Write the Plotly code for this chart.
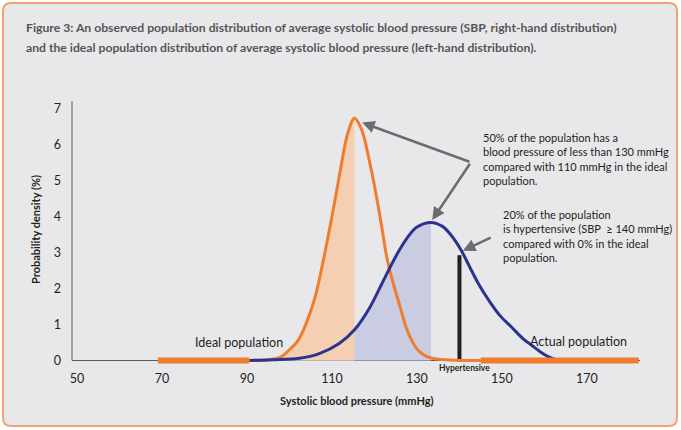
import plotly.graph_objects as go

# ---------------- data ----------------
ideal_x = [90.5, 95.0, 98.0, 100.0, 102.0, 104.0, 106.0, 108.0, 110.0, 112.0, 113.7, 115.3,
           117.0, 118.5, 120.0, 121.5, 123.0, 124.5, 126.0, 127.5, 129.0, 130.5, 132.5, 135.0,
           140.0, 145.0]
ideal_y = [0.0, 0.02, 0.10, 0.30, 0.55, 1.05, 1.75, 2.80, 4.00, 5.30, 6.30, 6.72,
           6.40, 5.70, 4.85, 3.85, 2.80, 2.10, 1.50, 0.90, 0.50, 0.25, 0.10, 0.03,
           0.0, 0.0]

actual_x = [90.6, 96.0, 102.3, 107.0, 111.7, 115.3, 118.8, 121.0, 123.3, 125.8, 128.0, 130.0,
            133.3, 136.0, 138.0, 140.4, 142.3, 144.5, 146.9, 149.5, 152.3, 155.0, 157.0,
            159.5, 161.7, 163.4]
actual_y = [0.0, 0.02, 0.06, 0.19, 0.47, 0.85, 1.45, 1.95, 2.50, 3.05, 3.45, 3.70,
            3.83, 3.72, 3.48, 3.06, 2.62, 2.12, 1.67, 1.25, 0.92, 0.60, 0.42,
            0.20, 0.06, 0.0]

ideal_median = 115.3      # end of orange shading
actual_median = 133.3     # end of blue shading
hypertension_sbp = 140.0
hypertension_density = 2.92

ideal_tails_x = [[69.0, 90.5], [145.0, 182.2]]
ideal_tails_y = [[0.0, 0.0], [0.0, 0.0]]

x_ticks = [50, 70, 90, 110, 130, 150, 170]
y_ticks = [0, 1, 2, 3, 4, 5, 6, 7]

title_lines = [
    "Figure 3: An observed population distribution of average systolic blood pressure (SBP, right-hand distribution)",
    "and the ideal population distribution of average systolic blood pressure (left-hand distribution).",
]
note_median = "50% of the population has a<br>blood pressure of less than 130 mmHg<br>compared with 110 mmHg in the ideal<br>population."
note_hyper = "20% of the population<br>is hypertensive (SBP  \u2265 140 mmHg)<br>compared with 0% in the ideal<br>population."

# ---------------- styles ----------------
ORANGE = "#ef7d2d"
NAVY = "#2b338e"
ORANGE_FILL = "#f4cfb2"
BLUE_FILL = "#cacce2"
GREY_ARROW = "#6b6c70"
TEXT = "#231f20"
BG = "#e8e8ea"
FONT = "Lato, Roboto, Liberation Sans, sans-serif"

W, H = 681, 430
L, R, T, B = 72, 41, 101, 66
PW, PH = W - L - R, H - T - B


def px_to_paper(px, py):
    return (px - L) / PW, (H - B - py) / PH


fig = go.Figure()

# shading (blue first, orange over it)
bx = [x for x in actual_x if x <= actual_median]
by = actual_y[:len(bx)]
fig.add_trace(go.Scatter(x=bx, y=by, mode="lines", line=dict(width=0, shape="spline", smoothing=1),
                         fill="tozeroy", fillcolor=BLUE_FILL, hoverinfo="skip", showlegend=False))
ox = [x for x in ideal_x if x <= ideal_median]
oy = ideal_y[:len(ox)]
fig.add_trace(go.Scatter(x=ox, y=oy, mode="lines", line=dict(width=0, shape="spline", smoothing=1),
                         fill="tozeroy", fillcolor=ORANGE_FILL, hoverinfo="skip", showlegend=False))

# hypertension threshold
fig.add_trace(go.Scatter(x=[hypertension_sbp, hypertension_sbp], y=[0, hypertension_density],
                         mode="lines", line=dict(color=TEXT, width=4), showlegend=False))

# curves
fig.add_trace(go.Scatter(x=ideal_x, y=ideal_y, mode="lines",
                         line=dict(color=ORANGE, width=3, shape="spline", smoothing=1),
                         showlegend=False))
fig.add_trace(go.Scatter(x=actual_x, y=actual_y, mode="lines",
                         line=dict(color=NAVY, width=3, shape="spline", smoothing=1),
                         showlegend=False))
for tx, ty in zip(ideal_tails_x, ideal_tails_y):
    fig.add_trace(go.Scatter(x=tx, y=ty, mode="lines",
                             line=dict(color=ORANGE, width=6), showlegend=False))

# background card
x0, y0 = px_to_paper(3, 426)
x1, y1 = px_to_paper(677, 3)
rx, ry = 8 / PW, 8 / PH
path = (f"M {x0+rx},{y0} L {x1-rx},{y0} Q {x1},{y0} {x1},{y0+ry} L {x1},{y1-ry} "
        f"Q {x1},{y1} {x1-rx},{y1} L {x0+rx},{y1} Q {x0},{y1} {x0},{y1-ry} "
        f"L {x0},{y0+ry} Q {x0},{y0} {x0+rx},{y0} Z")
shapes = [
    dict(type="path", path=path, xref="paper", yref="paper", fillcolor=BG,
         line=dict(color="#f2a470", width=2), layer="below"),
    dict(type="line", xref="paper", yref="y", x0=0, x1=0, y0=0, y1=7.2,
         line=dict(color="#5a5a5c", width=1)),
]

annotations = []
# title
for i, line in enumerate(title_lines):
    ax_, ay_ = px_to_paper(24, 28 + 19 * i)
    annotations.append(dict(text=f"<b>{line}</b>", xref="paper", yref="paper", x=ax_, y=ay_,
                            xanchor="left", yanchor="middle", showarrow=False,
                            font=dict(family=FONT, size=12.2, color="#555558")))
# arrows
for (hx, hy, tx, ty) in [(117.1, 6.6, 142.7, 5.5), (133.6, 3.9, 142.7, 5.5), (140.8, 3.04, 147.7, 3.43)]:
    annotations.append(dict(x=hx, y=hy, ax=tx, ay=ty, xref="x", yref="y", axref="x", ayref="y",
                            text="", showarrow=True, arrowhead=2, arrowsize=1, arrowwidth=2.5,
                            arrowcolor=GREY_ARROW, standoff=0))
# callout notes
annotations.append(dict(text=note_median, x=145.1, y=6.42, xref="x", yref="y", xanchor="left",
                        yanchor="top", align="left", showarrow=False,
                        font=dict(family=FONT, size=11, color=TEXT)))
annotations.append(dict(text=note_hyper, x=149.8, y=4.28, xref="x", yref="y", xanchor="left",
                        yanchor="top", align="left", showarrow=False,
                        font=dict(family=FONT, size=11, color=TEXT)))
# curve labels
annotations.append(dict(text="Ideal population", x=88.0, y=0.5, xref="x", yref="y",
                        showarrow=False, font=dict(family=FONT, size=12.5, color=TEXT)))
annotations.append(dict(text="Actual population", x=168.1, y=0.52, xref="x", yref="y",
                        showarrow=False, font=dict(family=FONT, size=12.5, color=TEXT)))
_, hy_ = px_to_paper(0, 368)
annotations.append(dict(text="<b>Hypertensive</b>", x=141.3, y=hy_, xref="x", yref="paper",
                        yanchor="middle", showarrow=False,
                        font=dict(family=FONT, size=8.5, color=TEXT)))
# axis titles
ax_, ay_ = px_to_paper(357, 400)
annotations.append(dict(text="<b>Systolic blood pressure (mmHg)</b>", x=ax_, y=ay_, xref="paper",
                        yref="paper", xanchor="center", yanchor="middle", showarrow=False,
                        font=dict(family=FONT, size=11, color=TEXT)))
ax_, ay_ = px_to_paper(35, 230)
annotations.append(dict(text="<b>Probability density (%)</b>", x=ax_, y=ay_, xref="paper",
                        yref="paper", xanchor="center", yanchor="middle", textangle=-90,
                        showarrow=False, font=dict(family=FONT, size=11, color=TEXT)))

fig.update_layout(
    width=W, height=H, margin=dict(l=L, r=R, t=T, b=B, pad=0),
    paper_bgcolor="white", plot_bgcolor="rgba(0,0,0,0)",
    shapes=shapes, annotations=annotations, showlegend=False,
    xaxis=dict(range=[48.8, 182.5], tickvals=x_ticks, showgrid=False, showline=False,
               zeroline=False, ticks="", ticklabelstandoff=5,
               tickfont=dict(family=FONT, size=12.5, color=TEXT)),
    yaxis=dict(range=[-0.1, 7.2], tickvals=y_ticks, showgrid=False, showline=False,
               zeroline=True, zerolinecolor="#5a5a5c", zerolinewidth=1, ticks="",
               ticklabelstandoff=10, tickfont=dict(family=FONT, size=12.5, color=TEXT)),
)

fig.write_html("out.html", post_script="document.body.style.margin='0px';",
               config={"displayModeBar": False})
